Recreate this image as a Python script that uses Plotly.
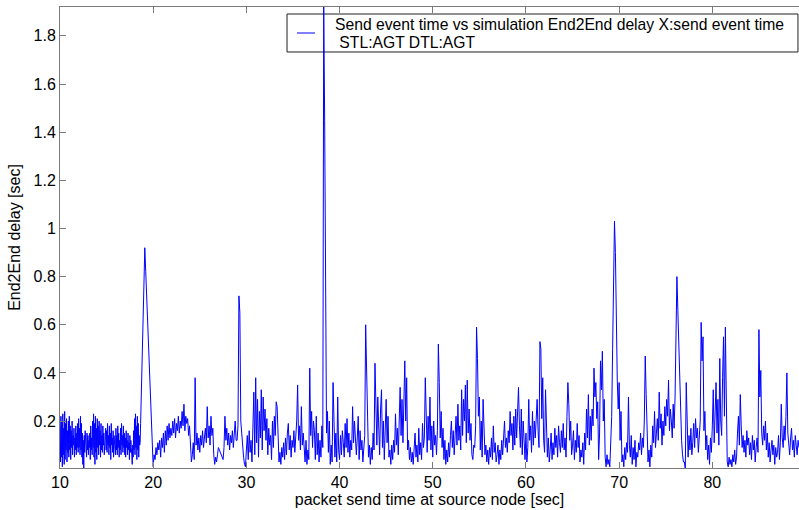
import plotly.graph_objects as go

# packet send time grid: each row holds the delays of one second
# (20 samples per second in the dense rows, 10 otherwise)

delay_10s = [
    [0.18,0.03,0.22,0.05,0.20,0.01,0.23,0.06,0.17,0.02,0.24,0.04,0.19,0.08,0.21,0.03,0.16,0.07,0.20,0.05],
    [0.22,0.08,0.18,0.04,0.16,0.09,0.20,0.06,0.14,0.10,0.17,0.05,0.13,0.08,0.18,0.06,0.15,0.09,0.19,0.07],
    [0.21,0.09,0.17,0.06,0.22,0.08,0.19,0.05,0.15,0.02,0.12,0.00,0.14,0.07,0.16,0.09,0.12,0.05,0.15,0.08],
    [0.14,0.06,0.12,0.09,0.15,0.04,0.18,0.08,0.13,0.06,0.20,0.09,0.23,0.05,0.19,0.02,0.22,0.07,0.17,0.04],
    [0.21,0.09,0.18,0.06,0.20,0.10,0.16,0.05,0.19,0.08,0.14,0.07,0.18,0.10,0.15,0.06,0.13,0.09,0.17,0.08],
    [0.16,0.07,0.19,0.10,0.14,0.06,0.18,0.09,0.15,0.04,0.19,0.10,0.13,0.07,0.16,0.05,0.14,0.09,0.12,0.06],
    [0.17,0.08,0.14,0.06,0.18,0.09,0.15,0.05,0.12,0.08,0.17,0.06,0.19,0.10,0.14,0.07,0.18,0.09,0.15,0.06],
    [0.13,0.05,0.16,0.09,0.12,0.06,0.15,0.08,0.11,0.04,0.14,0.07,0.12,0.09,0.06,0.02,0.10,0.05,0.16,0.08],
    [0.21,0.06,0.23,0.09,0.18,0.04,0.22,0.08,0.19,0.05,0.14,0.10,0.11,0.19,0.27,0.35,0.43,0.52,0.60,0.68],
    [0.76,0.92,0.82,0.71,0.60,0.50,0.38,0.27,0.16,0.05],
]
delay_20s = [
    [0.01,0.06,0.04,0.09,0.06,0.11,0.08,0.12,0.05,0.13],
    [0.09,0.15,0.07,0.16,0.10,0.18,0.12,0.19,0.13,0.17],
    [0.14,0.20,0.15,0.21,0.13,0.19,0.16,0.22,0.15,0.20],
    [0.17,0.24,0.18,0.27,0.16,0.22,0.19,0.21,0.14,0.18],
    [0.08,0.03,0.06,0.11,0.04,0.38,0.10,0.15,0.08,0.13],
    [0.07,0.14,0.10,0.16,0.09,0.12,0.17,0.11,0.26,0.13],
    [0.18,0.10,0.22,0.14,0.17,0.06,0.02,0.05,0.03,0.06],
    [0.09,0.08,0.07,0.06,0.05,0.04,0.09,0.22,0.12,0.17],
    [0.10,0.15,0.08,0.14,0.11,0.16,0.09,0.13,0.20,0.12],
    [0.12,0.18,0.72,0.65,0.20,0.15,0.09,0.05,0.02,0.01],
]
delay_30s = [
    [0.08,0.14,0.04,0.16,0.07,0.12,0.03,0.17,0.32,0.06],
    [0.38,0.11,0.29,0.05,0.24,0.13,0.33,0.08,0.30,0.16],
    [0.25,0.12,0.21,0.06,0.17,0.10,0.14,0.04,0.20,0.09],
    [0.22,0.14,0.28,0.26,0.10,0.03,0.07,0.02,0.09,0.05],
    [0.11,0.04,0.13,0.06,0.15,0.19,0.08,0.14,0.05,0.12],
    [0.09,0.16,0.07,0.13,0.20,0.35,0.12,0.18,0.08,0.26],
    [0.10,0.15,0.05,0.03,0.12,0.02,0.08,0.04,0.42,0.14],
    [0.24,0.09,0.20,0.16,0.04,0.22,0.06,0.15,0.03,0.12],
    [0.05,0.18,0.09,1.92,1.45,0.54,0.15,0.24,0.07,0.20],
    [0.02,0.10,0.03,0.36,0.12,0.05,0.15,0.03,0.30,0.08],
]
delay_40s = [
    [0.04,0.14,0.06,0.16,0.11,0.05,0.19,0.09,0.21,0.07],
    [0.15,0.05,0.12,0.08,0.26,0.11,0.20,0.14,0.06,0.13],
    [0.22,0.04,0.16,0.08,0.12,0.03,0.10,0.14,0.60,0.39],
    [0.12,0.05,0.10,0.02,0.09,0.04,0.15,0.08,0.44,0.16],
    [0.10,0.30,0.18,0.06,0.25,0.33,0.09,0.20,0.04,0.14],
    [0.29,0.11,0.22,0.05,0.08,0.02,0.10,0.04,0.12,0.07],
    [0.23,0.10,0.17,0.06,0.26,0.34,0.14,0.29,0.11,0.31],
    [0.45,0.20,0.38,0.08,0.12,0.04,0.09,0.03,0.07,0.02],
    [0.08,0.15,0.05,0.10,0.03,0.17,0.06,0.11,0.04,0.19],
    [0.09,0.13,0.38,0.16,0.07,0.22,0.12,0.30,0.08,0.18],
]
delay_50s = [
    [0.05,0.20,0.10,0.14,0.06,0.16,0.52,0.36,0.13,0.24],
    [0.09,0.17,0.04,0.12,0.02,0.08,0.03,0.11,0.05,0.14],
    [0.20,0.09,0.16,0.06,0.13,0.22,0.10,0.27,0.12,0.18],
    [0.08,0.33,0.14,0.29,0.20,0.35,0.11,0.37,0.15,0.25],
    [0.12,0.19,0.06,0.04,0.10,0.09,0.18,0.59,0.46,0.22],
    [0.30,0.08,0.20,0.05,0.29,0.12,0.06,0.10,0.03,0.08],
    [0.02,0.09,0.05,0.13,0.04,0.18,0.07,0.11,0.03,0.06],
    [0.10,0.02,0.08,0.04,0.12,0.06,0.15,0.20,0.09,0.13],
    [0.07,0.16,0.11,0.24,0.14,0.19,0.08,0.22,0.10,0.25],
    [0.13,0.21,0.34,0.18,0.09,0.25,0.06,0.20,0.11,0.04],
]
delay_60s = [
    [0.15,0.03,0.09,0.29,0.12,0.18,0.07,0.24,0.10,0.20],
    [0.13,0.22,0.29,0.16,0.09,0.53,0.50,0.21,0.38,0.12],
    [0.07,0.33,0.10,0.05,0.13,0.03,0.08,0.15,0.04,0.11],
    [0.06,0.17,0.09,0.14,0.05,0.18,0.11,0.07,0.16,0.09],
    [0.19,0.08,0.13,0.05,0.22,0.36,0.27,0.12,0.20,0.06],
    [0.10,0.16,0.04,0.12,0.07,0.19,0.09,0.14,0.03,0.08],
    [0.05,0.11,0.02,0.15,0.08,0.25,0.13,0.31,0.10,0.22],
    [0.12,0.25,0.18,0.42,0.30,0.36,0.21,0.28,0.04,0.15],
    [0.45,0.33,0.49,0.20,0.29,0.05,0.01,0.06,0.02,0.04],
    [0.01,0.09,0.22,0.50,0.90,1.03,0.90,0.52,0.37,0.25],
]
delay_70s = [
    [0.36,0.12,0.24,0.03,0.06,0.01,0.09,0.04,0.11,0.07],
    [0.30,0.10,0.05,0.14,0.02,0.09,0.04,0.12,0.01,0.07],
    [0.05,0.11,0.08,0.15,0.06,0.13,0.09,0.20,0.47,0.31],
    [0.12,0.03,0.08,0.01,0.10,0.05,0.18,0.11,0.24,0.09],
    [0.15,0.21,0.12,0.32,0.17,0.23,0.10,0.20,0.14,0.26],
    [0.18,0.29,0.22,0.37,0.16,0.25,0.20,0.13,0.27,0.17],
    [0.30,0.55,0.80,0.66,0.52,0.30,0.19,0.12,0.06,0.03],
    [0.03,0.00,0.36,0.12,0.05,0.14,0.08,0.17,0.06,0.11],
    [0.19,0.09,0.21,0.13,0.17,0.07,0.12,0.20,0.61,0.45],
    [0.55,0.16,0.24,0.08,0.14,0.04,0.10,0.02,0.13,0.07],
]
delay_80s = [
    [0.18,0.33,0.11,0.26,0.36,0.15,0.29,0.10,0.46,0.20],
    [0.14,0.38,0.55,0.22,0.59,0.30,0.03,0.01,0.05,0.02],
    [0.04,0.01,0.06,0.03,0.08,0.02,0.05,0.15,0.22,0.10],
    [0.31,0.18,0.09,0.14,0.07,0.12,0.05,0.16,0.10,0.13],
    [0.06,0.11,0.04,0.14,0.08,0.12,0.03,0.09,0.13,0.07],
    [0.58,0.30,0.41,0.15,0.10,0.18,0.12,0.20,0.08,0.15],
    [0.05,0.11,0.03,0.08,0.12,0.06,0.10,0.02,0.09,0.05],
    [0.07,0.14,0.04,0.11,0.27,0.13,0.09,0.18,0.12,0.22],
    [0.40,0.15,0.10,0.06,0.13,0.17,0.08,0.12,0.05,0.14],
    [0.10,0.06,0.12,0.09],
]

decades = [10, 20, 30, 40, 50, 60, 70, 80]
decade_rows = [delay_10s, delay_20s, delay_30s, delay_40s,
               delay_50s, delay_60s, delay_70s, delay_80s]

x_ticks = [10, 20, 30, 40, 50, 60, 70, 80]
y_ticks = [0.2, 0.4, 0.6, 0.8, 1.0, 1.2, 1.4, 1.6, 1.8]
y_tick_text = ["0.2", "0.4", "0.6", "0.8", "1", "1.2", "1.4", "1.6", "1.8"]

legend_line1 = "Send event time vs simulation End2End delay X:send event time"
legend_line2 = "\u00a0STL:AGT DTL:AGT"

send_time, delay = [], []
for d0, rows in zip(decades, decade_rows):
    for r, row in enumerate(rows):
        step = 0.05 if len(row) == 20 else 0.1
        for i, v in enumerate(row):
            send_time.append(round(d0 + r + i * step, 3))
            delay.append(v)

FONT = "Liberation Sans, Arial, Helvetica, sans-serif"
AX = "#7a7a7a"
FS = 16
LFS = 15.7

fig = go.Figure()
fig.add_trace(go.Scatter(
    x=send_time, y=delay, mode="lines",
    line=dict(color="#0000ff", width=1),
    name=legend_line1, showlegend=False,
))

# legend drawn as a box, a line sample and two text lines (paper coordinates)
fig.add_shape(type="rect", xref="paper", yref="paper",
              x0=0.3072, x1=0.9986, y0=0.9024, y1=0.9848,
              line=dict(color="#202020", width=1), fillcolor="rgba(0,0,0,0)",
              layer="below")
fig.add_shape(type="line", xref="paper", yref="paper",
              x0=0.3207, x1=0.3451, y0=0.9436, y1=0.9436,
              line=dict(color="#0000ff", width=1))
fig.add_annotation(text=legend_line1, xref="paper", yref="paper",
                   x=0.3694, y=0.9610, xanchor="left", yanchor="middle",
                   showarrow=False, font=dict(family=FONT, size=LFS, color="black"))
fig.add_annotation(text=legend_line2, xref="paper", yref="paper",
                   x=0.3694, y=0.9220, xanchor="left", yanchor="middle",
                   showarrow=False, font=dict(family=FONT, size=LFS, color="black"))

fig.update_layout(
    width=799, height=510,
    margin=dict(l=60, r=0, t=7, b=42),
    paper_bgcolor="white", plot_bgcolor="white",
    font=dict(family=FONT, size=FS, color="black"),
    showlegend=False,
    xaxis=dict(
        range=[10, 89.3], tickvals=x_ticks, ticktext=[str(v) for v in x_ticks],
        showline=True, linecolor=AX, linewidth=1, mirror="ticks",
        ticks="inside", ticklen=6, tickcolor=AX, showgrid=False, zeroline=False,
        automargin=False,
        title=dict(text="packet send time at source node [sec]", standoff=3,
                   font=dict(size=FS)),
        tickfont=dict(size=FS),
    ),
    yaxis=dict(
        range=[0.005, 1.92], tickvals=y_ticks, ticktext=y_tick_text,
        showline=True, linecolor=AX, linewidth=1, mirror=False,
        ticks="inside", ticklen=6, tickcolor=AX, showgrid=False, zeroline=False,
        automargin=False,
        title=dict(text="End2End delay [sec]", standoff=8, font=dict(size=FS)),
        tickfont=dict(size=FS),
    ),
)

fig.write_html(
    "out.html",
    config={"displayModeBar": False},
    post_script="document.body.style.margin='0';document.body.style.overflow='hidden';",
)
